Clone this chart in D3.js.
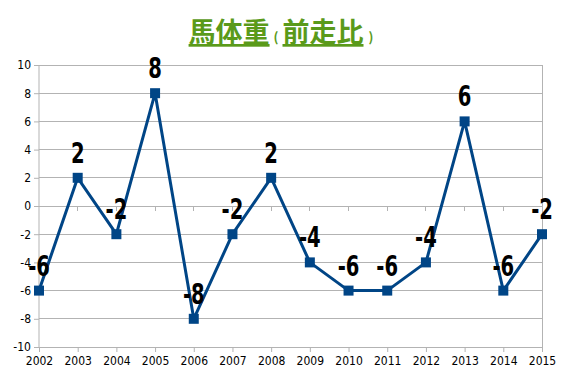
<!DOCTYPE html>
<html><head><meta charset="utf-8">
<script src="https://cdn.jsdelivr.net/npm/d3@7"></script>
<style>body{margin:0;background:#fff}svg{display:block}</style>
</head><body>
<svg id="c" width="567" height="378"></svg>
<script>
const years = ["2002","2003","2004","2005","2006","2007","2008","2009","2010","2011","2012","2013","2014","2015"];
const values = [-6,2,-2,8,-8,-2,2,-4,-6,-6,-4,6,-6,-2];
const yTicks = [-10,-8,-6,-4,-2,0,2,4,6,8,10];

const svg = d3.select("#c");
const x = d3.scalePoint().domain(years).range([39,542]);
const y = d3.scaleLinear().domain([-10,10]).range([347,65]);
const gray = "#b3b3b3";

// gridlines
svg.append("g").selectAll("line").data(yTicks).join("line")
  .attr("x1",39).attr("x2",542).attr("y1",d=>y(d)).attr("y2",d=>y(d))
  .attr("stroke",gray).attr("stroke-width",1).attr("shape-rendering","crispEdges");
// right border
svg.append("line").attr("x1",542).attr("x2",542).attr("y1",y(10)).attr("y2",y(-10))
  .attr("stroke",gray).attr("shape-rendering","crispEdges");

// y axis
const ya = svg.append("g").attr("transform","translate(39,0)")
  .call(d3.axisLeft(y).tickValues(yTicks).tickSize(5).tickPadding(3).tickFormat(d=>String(d)));
ya.select(".domain").attr("stroke",gray).attr("d",`M0,${y(10)}V${y(-10)}`);
ya.selectAll(".tick line").attr("stroke",gray);
ya.selectAll("text").attr("font-family","'DejaVu Sans Condensed','DejaVu Sans',sans-serif").attr("font-size",12).attr("fill","#000");

// zero-line ticks
svg.append("g").selectAll("line").data(years.slice(1,-1)).join("line")
  .attr("x1",d=>x(d)).attr("x2",d=>x(d)).attr("y1",y(0)).attr("y2",y(0)+5)
  .attr("stroke",gray).attr("shape-rendering","crispEdges");

// x axis at bottom
const xa = svg.append("g").attr("transform",`translate(0,${y(-10)})`)
  .call(d3.axisBottom(x).tickSize(5).tickPadding(4));
xa.select(".domain").remove();
xa.selectAll(".tick line").attr("stroke",gray);
xa.selectAll("text").attr("font-family","'DejaVu Sans Condensed','DejaVu Sans',sans-serif").attr("font-size",12).attr("fill","#000");

// line
const blue = "#004586";
svg.append("path").datum(values)
  .attr("d", d3.line().x((d,i)=>x(years[i])).y(d=>y(d)))
  .attr("fill","none").attr("stroke",blue).attr("stroke-width",3).attr("stroke-linejoin","round");
svg.append("g").selectAll("rect").data(values).join("rect")
  .attr("x",(d,i)=>x(years[i])-5).attr("y",d=>y(d)-5).attr("width",10).attr("height",10)
  .attr("fill",blue);

// value labels
svg.append("g").selectAll("text").data(values).join("text")
  .attr("x",(d,i)=>x(years[i])).attr("y",d=>y(d)-15)
  .attr("text-anchor","middle")
  .attr("font-family","'DejaVu Sans Condensed','DejaVu Sans',sans-serif")
  .attr("font-weight","bold").attr("font-size",29).attr("fill","#000")
  .attr("transform",(d,i)=>`translate(${x(years[i])},0) scale(0.75,1) translate(${-x(years[i])},0)`)
  .text(d=>d);

// title
const green = "#5a9a1a";
const t = svg.append("text").attr("x",281).attr("y",42).attr("text-anchor","middle")
  .attr("font-family","'Noto Sans CJK JP',sans-serif").attr("font-weight","bold")
  .attr("fill",green);
t.append("tspan").attr("font-size",27).attr("text-decoration","underline").text("馬体重");
t.append("tspan").attr("font-size",13).attr("dx",4).text("(");
t.append("tspan").attr("font-size",27).attr("dx",4).attr("text-decoration","underline").text("前走比");
t.append("tspan").attr("font-size",13).attr("dx",5).text(")");
</script>
</body></html>
